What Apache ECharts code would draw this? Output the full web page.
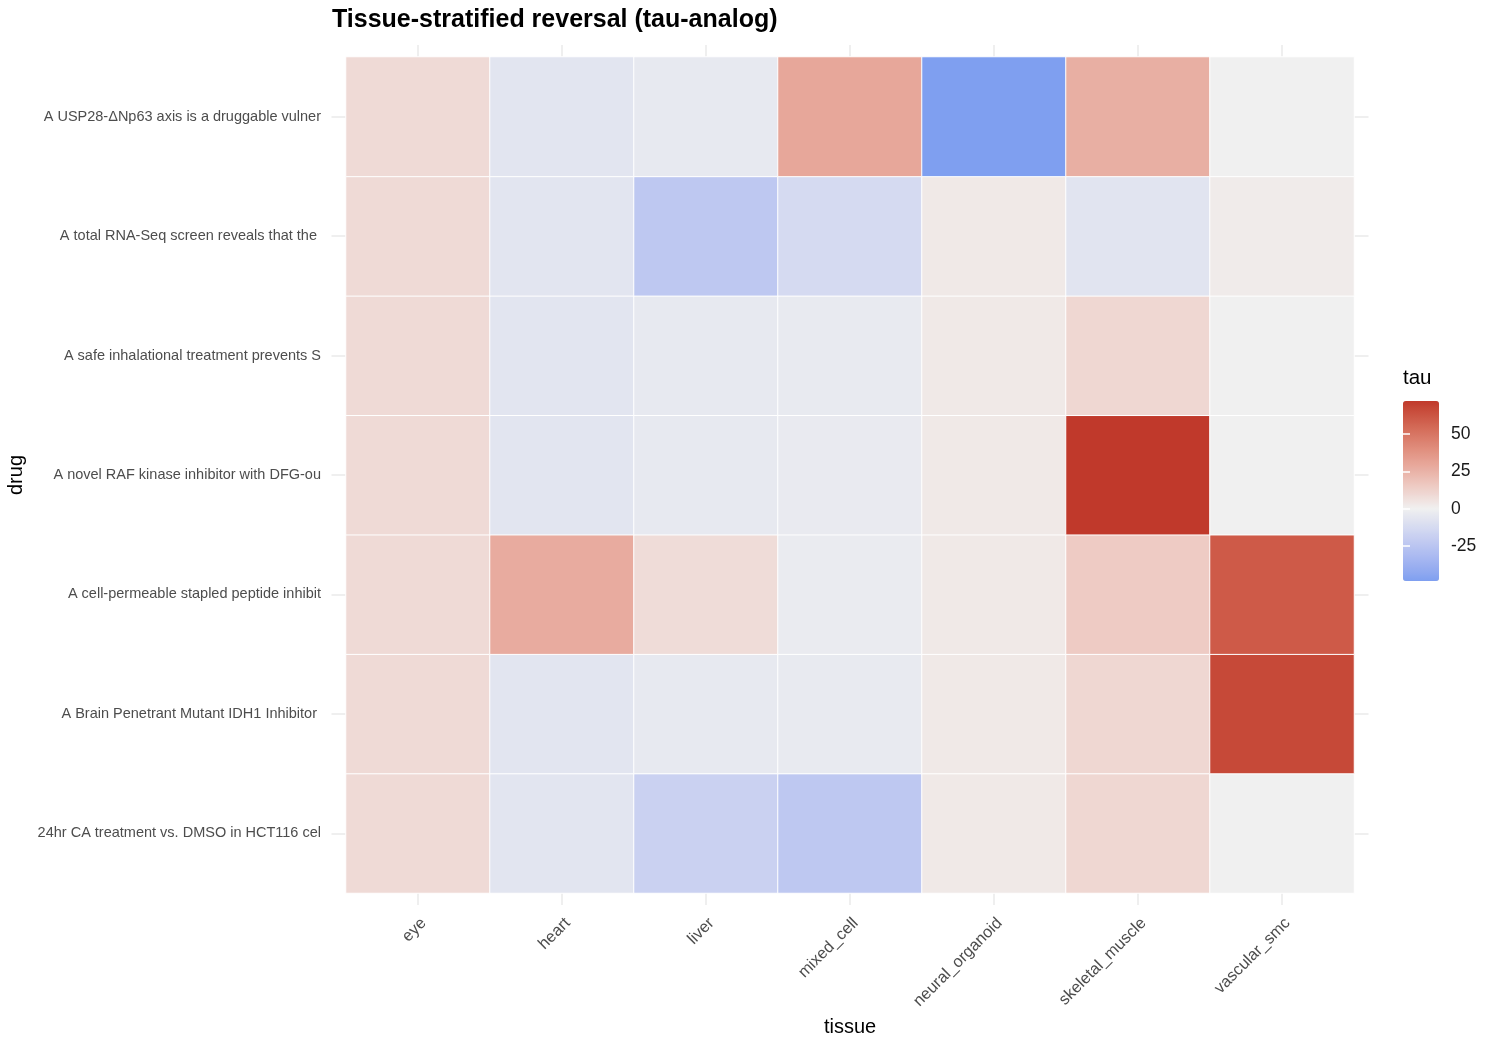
<!DOCTYPE html>
<html>
<head>
<meta charset="utf-8">
<title>Tissue-stratified reversal (tau-analog)</title>
<script src="https://cdn.jsdelivr.net/npm/echarts@6.0.0/dist/echarts.min.js"></script>
<style>
  html, body { margin: 0; padding: 0; background: #fff; }
  #main { width: 1500px; height: 1050px; }
</style>
</head>
<body>
<div id="main"></div>
<script>
// categories
var tissues = ['eye', 'heart', 'liver', 'mixed_cell', 'neural_organoid', 'skeletal_muscle', 'vascular_smc'];
// drugs, bottom row first
var drugs = [
    '24hr CA treatment vs. DMSO in HCT116 cel',
    'A Brain Penetrant Mutant IDH1 Inhibitor ',
    'A cell-permeable stapled peptide inhibit',
    'A novel RAF kinase inhibitor with DFG-ou',
    'A safe inhalational treatment prevents S',
    'A total RNA-Seq screen reveals that the ',
    'A USP28-\u0394Np63 axis is a druggable vulner'
];

// tau per tissue (same order as tissues), one array per drug
var tau24hr  = [9, -6.5, -18, -23.5, 3, 10, 0];
var tauBrain = [9, -6.5, -4, -3.5, 3, 10, 67];
var tauCell  = [9, 28, 8, -2.5, 3, 15, 60.5];
var tauRaf   = [9, -6.5, -4, -3, 3, 72.3, 0];
var tauSafe  = [9, -6.5, -4, -3.5, 3, 10, 0];
var tauTotal = [9, -6.5, -23.5, -12.7, 3, -7, 2];
var tauUsp28 = [9, -6.5, -4, 29.5, -48.5, 26.5, 0];

var legendTicks = [-25, 0, 25, 50];

var rows = [tau24hr, tauBrain, tauCell, tauRaf, tauSafe, tauTotal, tauUsp28];

var heatData = [];
var allVals = [];
rows.forEach(function (row, yi) {
    row.forEach(function (v, xi) {
        heatData.push([xi, yi, v]);
        allVals.push(v);
    });
});
var vMin = Math.min.apply(null, allVals);
var vMax = Math.max.apply(null, allVals);

// diverging palette, interpolated in Lab like ggplot's gradient2
var colLow = '#7f9ff0', colMid = '#f0f0f0', colHigh = '#c0392b';

function toLab(hex) {
    var c = [1, 3, 5].map(function (i) {
        var v = parseInt(hex.substr(i, 2), 16) / 255;
        return v <= 0.04045 ? v / 12.92 : Math.pow((v + 0.055) / 1.055, 2.4);
    });
    var x = (0.4124 * c[0] + 0.3576 * c[1] + 0.1805 * c[2]) / 0.95047;
    var y = 0.2126 * c[0] + 0.7152 * c[1] + 0.0722 * c[2];
    var z = (0.0193 * c[0] + 0.1192 * c[1] + 0.9505 * c[2]) / 1.08883;
    var f = function (t) { return t > 0.008856 ? Math.cbrt(t) : 7.787 * t + 16 / 116; };
    return [116 * f(y) - 16, 500 * (f(x) - f(y)), 200 * (f(y) - f(z))];
}
function fromLab(lab) {
    var fy = (lab[0] + 16) / 116, fx = fy + lab[1] / 500, fz = fy - lab[2] / 200;
    var inv = function (t) { return t * t * t > 0.008856 ? t * t * t : (t - 16 / 116) / 7.787; };
    var x = inv(fx) * 0.95047, y = inv(fy), z = inv(fz) * 1.08883;
    var rgb = [
        3.2406 * x - 1.5372 * y - 0.4986 * z,
        -0.9689 * x + 1.8758 * y + 0.0415 * z,
        0.0557 * x - 0.2040 * y + 1.0570 * z
    ];
    return 'rgb(' + rgb.map(function (v) {
        v = v <= 0.0031308 ? 12.92 * v : 1.055 * Math.pow(v, 1 / 2.4) - 0.055;
        return Math.round(Math.max(0, Math.min(1, v)) * 255);
    }).join(',') + ')';
}
function mixLab(a, b, t) {
    return [a[0] + (b[0] - a[0]) * t, a[1] + (b[1] - a[1]) * t, a[2] + (b[2] - a[2]) * t];
}
var labLow = toLab(colLow), labMid = toLab(colMid), labHigh = toLab(colHigh);
var stops = [];
var nStops = 81;
for (var i = 0; i < nStops; i++) {
    var v = vMin + (vMax - vMin) * i / (nStops - 1);
    var lab = v < 0 ? mixLab(labMid, labLow, v / vMin) : mixLab(labMid, labHigh, v / vMax);
    stops.push(fromLab(lab));
}

var myChart = echarts.init(document.getElementById('main'));

var stub = { show: true, alignWithLabel: true, length: 12, lineStyle: { color: '#ebebeb', width: 1.6 } };
var stubY = { show: true, alignWithLabel: true, length: 14.5, lineStyle: { color: '#ebebeb', width: 1.6 } };
var whiteTick = { show: true, inside: true, length: 7, customValues: legendTicks, lineStyle: { color: '#ffffff', width: 1.5 } };

var option = {
    animation: false,
    textStyle: { fontFamily: 'Liberation Sans, Arial, sans-serif' },
    title: [{
        text: 'Tissue-stratified reversal (tau-analog)',
        left: 332,
        top: 8,
        padding: 0,
        textStyle: { fontSize: 25, fontWeight: 'bold', color: '#000' }
    }, {
        text: 'tau',
        left: 1403,
        top: 368,
        padding: 0,
        textStyle: { fontSize: 20.5, fontWeight: 'normal', color: '#000' }
    }],
    grid: [
        { left: 346, right: 146, top: 57, bottom: 157, outerBoundsMode: 'none' },
        { left: 1403, top: 401, width: 36, height: 180, outerBoundsMode: 'none' }
    ],
    xAxis: [{
        gridIndex: 0,
        type: 'category',
        data: tissues,
        position: 'bottom',
        axisLine: { show: false },
        axisTick: stub,
        splitLine: { show: false },
        axisLabel: { rotate: 45, margin: 22, verticalAlign: 'top', fontSize: 16.3, color: '#4d4d4d' },
        name: 'tissue',
        nameLocation: 'middle',
        nameGap: 124,
        nameTextStyle: { fontSize: 20, color: '#000' }
    }, {
        gridIndex: 0,
        type: 'category',
        data: tissues,
        position: 'top',
        axisLine: { show: false },
        axisTick: stub,
        axisLabel: { show: false },
        splitLine: { show: false }
    }, {
        gridIndex: 1,
        type: 'value',
        min: 0,
        max: 1,
        show: false
    }],
    yAxis: [{
        gridIndex: 0,
        type: 'category',
        data: drugs,
        position: 'left',
        axisLine: { show: false },
        axisTick: stubY,
        splitLine: { show: false },
        axisLabel: { margin: 25, fontSize: 14.5, color: '#4d4d4d' },
        name: 'drug',
        nameLocation: 'middle',
        nameGap: 317,
        nameTextStyle: { fontSize: 20, color: '#000' }
    }, {
        gridIndex: 0,
        type: 'category',
        data: drugs,
        position: 'right',
        axisLine: { show: false },
        axisTick: stubY,
        axisLabel: { show: false },
        splitLine: { show: false }
    }, {
        gridIndex: 1,
        type: 'value',
        min: vMin,
        max: vMax,
        position: 'right',
        z: 10,
        axisLine: { show: false },
        axisTick: whiteTick,
        splitLine: { show: false },
        axisLabel: { customValues: legendTicks, margin: 12, fontSize: 17.5, color: '#1a1a1a' }
    }, {
        gridIndex: 1,
        type: 'value',
        min: vMin,
        max: vMax,
        position: 'left',
        z: 10,
        axisLine: { show: false },
        axisTick: whiteTick,
        splitLine: { show: false },
        axisLabel: { show: false }
    }],
    visualMap: {
        type: 'continuous',
        min: vMin,
        max: vMax,
        seriesIndex: 0,
        dimension: 2,
        left: 1403,
        top: 401,
        itemWidth: 36,
        itemHeight: 180,
        padding: 0,
        calculable: false,
        hoverLink: false,
        inRange: { color: stops }
    },
    series: [{
        type: 'heatmap',
        xAxisIndex: 0,
        yAxisIndex: 0,
        data: heatData,
        itemStyle: { borderColor: '#ffffff', borderWidth: 1 },
        emphasis: { disabled: true }
    }]
};

myChart.setOption(option);
</script>
</body>
</html>
